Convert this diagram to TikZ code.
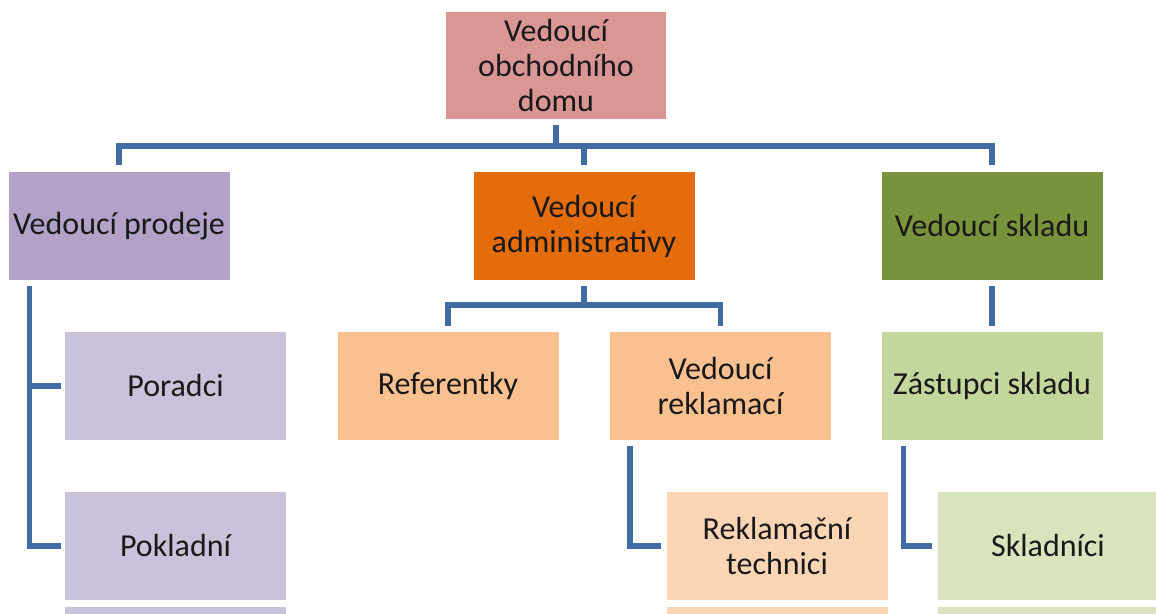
\documentclass[tikz,border=0pt]{standalone}
\usepackage{fontspec}
\setmainfont{Carlito}
\definecolor{linkblue}{HTML}{426DA4}
\definecolor{topred}{HTML}{D99694}
\definecolor{purpleA}{HTML}{B2A2C7}
\definecolor{purpleB}{HTML}{CCC1DA}
\definecolor{orangeA}{HTML}{E46C0A}
\definecolor{orangeB}{HTML}{FAC090}
\definecolor{orangeC}{HTML}{FCD5B5}
\definecolor{greenA}{HTML}{77933C}
\definecolor{greenB}{HTML}{C3D69B}
\definecolor{greenC}{HTML}{D7E4BD}
\begin{document}
\begin{tikzpicture}[x=1pt,y=-1pt,
  box/.style={minimum width=221pt, minimum height=108pt, inner sep=0pt,
    align=center, text=black!90, font=\fontsize{32}{35}\selectfont},
  conn/.style={draw=linkblue, line width=5.5pt, line join=miter}]
\useasboundingbox (0,0) rectangle (1156,613);
\clip (0,0) rectangle (1156,613);
\fill[white] (0,0) rectangle (1156,613);

% first level
\node[box, fill=topred, minimum width=220pt, minimum height=107pt] (top) at (556,65.5) {Vedoucí\\obchodního\\domu};

% second level
\node[box, fill=purpleA] (prodeje) at (119,226) {Vedoucí prodeje};
\node[box, fill=orangeA] (admin) at (584,226) {Vedoucí\\administrativy};
\node[box, fill=greenA] (sklad) at (992,226) {Vedoucí skladu};

% third level
\node[box, fill=purpleB] (poradci) at (175.5,386) {Poradci};
\node[box, fill=orangeB] (referentky) at (448,386) {Referentky};
\node[box, fill=orangeB] (reklamace) at (720.5,386) {Vedoucí\\reklamací};
\node[box, fill=greenB] (zastupci) at (992,386) {Zástupci skladu};

% fourth level
\node[box, fill=purpleB] (pokladni) at (175.5,546) {Pokladní};
\node[box, fill=orangeC] (technici) at (777,546) {Reklamační\\technici};
\node[box, fill=greenC] (skladnici) at (1048,546) {Skladníci};

% fifth level, cut off by the lower edge
\node[box, fill=purpleB] (pokladniB) at (175.5,661) {};
\node[box, fill=orangeC] (techniciB) at (777,661) {};
\node[box, fill=greenC] (skladniciB) at (1048,661) {};

% connectors from the head
\draw[conn, shorten <=6pt, shorten >=7pt] (top.south) -- ++(0,27) -| (prodeje.north);
\draw[conn, shorten <=6pt, shorten >=7pt] (top.south) -- ++(0,27) -| (admin.north);
\draw[conn, shorten <=6pt, shorten >=7pt] (top.south) -- ++(0,27) -| (sklad.north);

% sales
\draw[conn, shorten <=6pt, shorten >=4pt] ([xshift=21pt]prodeje.south west) |- (poradci.west);
\draw[conn, shorten <=6pt, shorten >=4pt] ([xshift=21pt]prodeje.south west) |- (pokladni.west);

% administration
\draw[conn, shorten <=6pt, shorten >=6pt] (admin.south) -- ++(0,25) -| (referentky.north);
\draw[conn, shorten <=6pt, shorten >=6pt] (admin.south) -- ++(0,25) -| (reklamace.north);
\draw[conn, shorten <=6pt, shorten >=5pt] ([xshift=20pt]reklamace.south west) |- (technici.west);

% warehouse
\draw[conn, shorten <=6pt, shorten >=6pt] (sklad.south) -- (zastupci.north);
\draw[conn, shorten <=6pt, shorten >=5pt] ([xshift=22pt]zastupci.south west) |- (skladnici.west);
\end{tikzpicture}
\end{document}
